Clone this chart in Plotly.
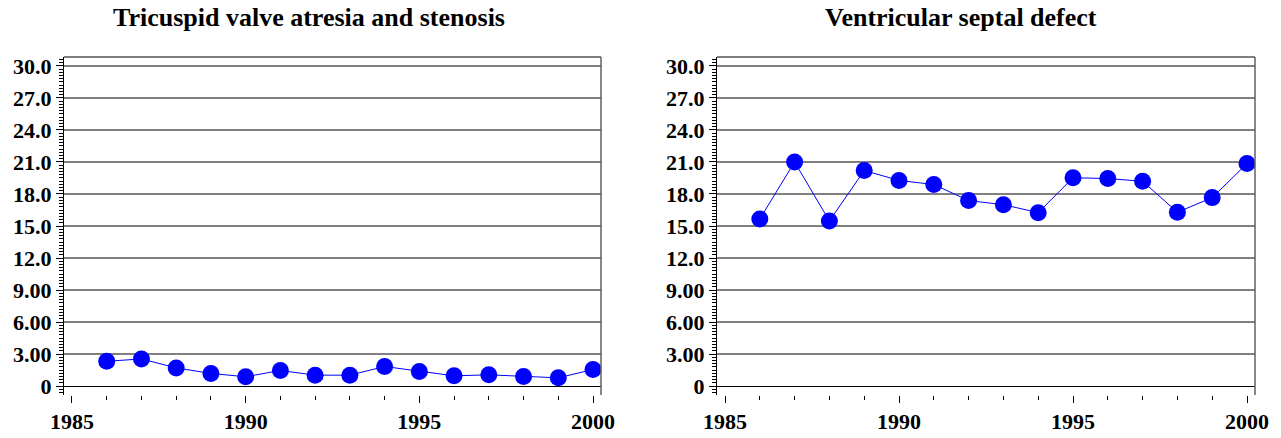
import plotly.graph_objects as go

# Annual prevalence per 10,000 births, 1986-2000
years = [1986, 1987, 1988, 1989, 1990, 1991, 1992, 1993, 1994, 1995,
         1996, 1997, 1998, 1999, 2000]
tricuspid = [2.32, 2.54, 1.70, 1.18, 0.87, 1.46, 1.02, 1.02, 1.83, 1.36,
             0.96, 1.05, 0.90, 0.77, 1.55]
vsd = [15.66, 21.0, 15.47, 20.2, 19.27, 18.89, 17.38, 17.0, 16.25, 19.52,
       19.45, 19.19, 16.29, 17.66, 20.85]

titles = ["Tricuspid valve atresia and stenosis", "Ventricular septal defect"]
y_tickvals = [0, 3, 6, 9, 12, 15, 18, 21, 24, 27, 30]
y_ticktext = ["0", "3.00", "6.00", "9.00", "12.0", "15.0", "18.0", "21.0",
              "24.0", "27.0", "30.0"]
x_tickvals = [1985, 1990, 1995, 2000]

W, H = 1281, 438
FONT = "Liberation Serif"
BLUE = "#0000ff"
GRID = "#808080"

# panel plot areas in pixels: (left, right)
panels = [(64, 601), (717, 1255)]
top_px, bottom_px = 57, 395
ydom = [(H - bottom_px) / H, (H - top_px) / H]

fig = go.Figure()
series = [tricuspid, vsd]
for i, vals in enumerate(series):
    suffix = "" if i == 0 else str(i + 1)
    fig.add_trace(go.Scatter(
        x=years, y=vals, mode="lines+markers",
        line=dict(color=BLUE, width=1),
        marker=dict(color=BLUE, size=17, symbol="circle",
                    line=dict(width=0)),
        xaxis="x" + suffix, yaxis="y" + suffix, showlegend=False,
    ))

tickfont = dict(family=FONT, size=22, color="black", weight="bold")
layout = dict(
    template="none",
    width=W, height=H, autosize=False,
    margin=dict(l=0, r=0, t=0, b=0, pad=0),
    paper_bgcolor="white", plot_bgcolor="white",
    showlegend=False,
)
shapes = []
annotations = []
for i, (l, r) in enumerate(panels):
    suffix = "" if i == 0 else str(i + 1)
    xa = "xaxis" + suffix
    ya = "yaxis" + suffix
    layout[xa] = dict(
        domain=[l / W, r / W], range=[1984.77, 2000.23],
        anchor="y" + suffix, automargin=False,
        tickvals=x_tickvals, ticktext=[str(v) for v in x_tickvals],
        ticks="outside", ticklen=7, tickwidth=1, tickcolor="black",
        minor=dict(dtick=1, tick0=1985, ticks="outside", ticklen=4,
                   tickwidth=1, tickcolor="black", showgrid=False),
        showgrid=False, zeroline=False, showline=False,
        tickfont=tickfont, fixedrange=True,
    )
    layout[ya] = dict(
        domain=ydom, range=[-0.84, 30.84],
        anchor="x" + suffix, automargin=False,
        tickvals=y_tickvals, ticktext=y_ticktext,
        ticks="outside", ticklen=7, tickwidth=1, tickcolor="black",
        minor=dict(dtick=0.3, tick0=0, ticks="outside", ticklen=4,
                   tickwidth=1, tickcolor="black", showgrid=False),
        showgrid=True, gridcolor=GRID, gridwidth=1.5,
        zeroline=True, zerolinecolor="black", zerolinewidth=1,
        showline=True, linecolor="black", linewidth=1,
        tickfont=tickfont, fixedrange=True,
    )
    xref = "x" + suffix + " domain"
    yref = "y" + suffix + " domain"
    # top frame edge
    shapes.append(dict(type="line", xref=xref, yref=yref,
                       x0=0, x1=1, y0=1, y1=1,
                       line=dict(color="black", width=1)))
    # right frame edge
    shapes.append(dict(type="line", xref=xref, yref=yref,
                       x0=1, x1=1, y0=0, y1=1,
                       line=dict(color="#606060", width=1.5)))

title_x = [309, 961]
for t, tx in zip(titles, title_x):
    annotations.append(dict(text=t, x=tx / W, y=1 - 18 / H,
                            xref="paper", yref="paper", showarrow=False,
                            xanchor="center", yanchor="middle",
                            font=dict(family=FONT, size=26, color="black",
                                      weight="bold")))
layout["shapes"] = shapes
layout["annotations"] = annotations
fig.update_layout(**layout)

fig.write_html("out.html")
